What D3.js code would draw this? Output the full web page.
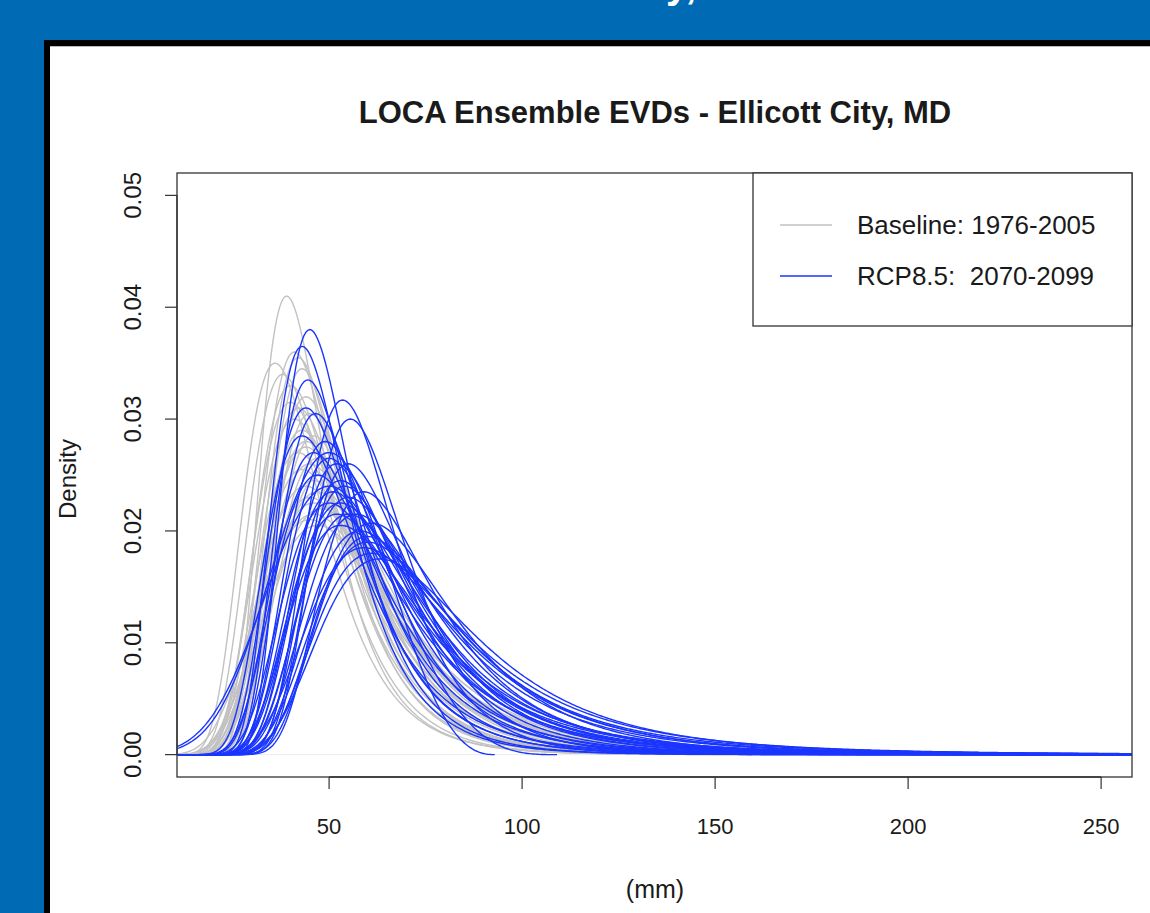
<!DOCTYPE html>
<html>
<head>
<meta charset="utf-8">
<script src="https://cdn.jsdelivr.net/npm/d3@7.9.0/dist/d3.min.js"></script>
<style>
  html, body { margin: 0; padding: 0; background: #006ab4; }
  svg { display: block; }
  text { font-family: "Liberation Sans", Arial, Helvetica, sans-serif; fill: #1a1a1a; }
</style>
</head>
<body>
<svg id="chart" width="1150" height="913"></svg>
<script>
// Baseline (1976-2005) ensemble members: mode (mm), peak density, GEV shape
const baselineMode = [39, 36, 41, 42, 43, 40, 44, 42, 45, 41, 43, 46, 44, 42, 47,
  45, 43, 48, 46, 44, 47, 45, 46, 48, 46, 45, 47, 44, 38, 40];
const baselinePeak = [0.041, 0.035, 0.036, 0.0355, 0.0345, 0.033, 0.032, 0.031, 0.0305, 0.030,
  0.029, 0.0285, 0.0275, 0.027, 0.0265, 0.026, 0.0255, 0.025, 0.0245, 0.024,
  0.0235, 0.023, 0.0225, 0.022, 0.0215, 0.021, 0.0205, 0.028, 0.034, 0.0315];
const baselineShape = [0.10, 0.05, 0.08, 0.10, 0.12, 0.06, 0.10, 0.08, 0.12, 0.05,
  0.10, 0.14, 0.08, 0.12, 0.10, 0.06, 0.15, 0.10, 0.12, 0.08,
  0.10, 0.14, 0.06, 0.12, 0.10, 0.08, 0.12, 0.10, 0.04, 0.08];

// RCP8.5 (2070-2099) ensemble members
const futureMode = [45, 43, 44.5, 53.5, 55.5, 46.5, 43, 49, 55, 47, 53, 59, 50, 61, 58,
  60, 59, 61, 63, 50, 51, 53, 55, 46, 54, 55, 52, 52, 60, 53, 57, 44, 50, 50];
const futurePeak = [0.038, 0.0365, 0.0335, 0.0317, 0.030, 0.0305, 0.0285, 0.028, 0.026, 0.025,
  0.0245, 0.0235, 0.0225, 0.0207, 0.020, 0.019, 0.0185, 0.018, 0.0175, 0.0265,
  0.0235, 0.0225, 0.0215, 0.027, 0.024, 0.023, 0.0215, 0.026, 0.0195, 0.0205,
  0.0215, 0.031, 0.027, 0.024];
const futureShape = [0.10, 0.08, 0.12, 0.02, 0.05, 0.10, 0.12, 0.10, 0.15, 0.12,
  0.12, 0.15, 0.16, 0.10, 0.18, 0.15, 0.14, 0.20, 0.15, 0.10,
  0.18, 0.14, 0.16, 0.12, 0.20, 0.12, 0.20, 0.12, 0.22, 0.18,
  0.12, 0.08, -0.30, -0.25];

const xTicks = [50, 100, 150, 200, 250];
const yTicks = [0, 0.01, 0.02, 0.03, 0.04, 0.05];
const legendLabels = ['Baseline: 1976-2005', 'RCP8.5:  2070-2099'];
const legendColors = ['#c2c2c2', '#1a35ff'];

const svg = d3.select('#chart');

// slide panel
svg.append('text')
  .attr('id', 'slideTitle')
  .attr('x', 0).attr('y', -2)
  .style('font-size', '40px')
  .style('font-weight', 'bold')
  .style('fill', '#ffffff')
  .text('Ellicott City, MD');
const st = document.getElementById('slideTitle');
const yPos = st.getSubStringLength(0, 12);
d3.select(st).attr('x', 666 - yPos);

svg.append('rect').attr('x', 44).attr('y', 40).attr('width', 1200).attr('height', 1000).attr('fill', '#000');
svg.append('rect').attr('x', 50).attr('y', 46).attr('width', 1200).attr('height', 1000).attr('fill', '#fff');
svg.append('line').attr('x1', 50).attr('x2', 1150).attr('y1', 46.5).attr('y2', 46.5)
  .attr('stroke', '#bbb').attr('stroke-width', 1);

const plot = { left: 177, right: 1132, top: 173, bottom: 777 };

const x = d3.scaleLinear().domain([10.6, 258]).range([plot.left, plot.right]);
const y = d3.scaleLinear().domain([-0.002, 0.052]).range([plot.bottom, plot.top]);

function gevParams(mode, peak, xi) {
  const a = Math.pow(1 + xi, 1 + xi) * Math.exp(-(1 + xi));
  const sigma = a / peak;
  const mu = mode - sigma * (Math.pow(1 + xi, -xi) - 1) / xi;
  return { mu, sigma, xi };
}

function gevPdf(v, p) {
  const s = 1 + p.xi * (v - p.mu) / p.sigma;
  if (s <= 0) return 0;
  const t = Math.pow(s, -1 / p.xi);
  return Math.pow(t, p.xi + 1) * Math.exp(-t) / p.sigma;
}

function curvePoints(p, xEnd) {
  let grid = d3.range(8, xEnd, 0.5);
  if (p.xi < 0) {
    const bound = p.mu - p.sigma / p.xi;
    grid = grid.filter((v) => v < bound);
    grid.push(bound);
  }
  return grid.map((v) => [v, gevPdf(v, p)]);
}

svg.append('clipPath').attr('id', 'plotClip')
  .append('rect')
  .attr('x', plot.left).attr('y', plot.top)
  .attr('width', plot.right - plot.left).attr('height', plot.bottom - plot.top);

const g = svg.append('g').attr('clip-path', 'url(#plotClip)');

g.append('line')
  .attr('x1', plot.left).attr('x2', plot.right)
  .attr('y1', y(0)).attr('y2', y(0))
  .attr('stroke', '#ececec').attr('stroke-width', 1);

const line = d3.line().x((d) => x(d[0])).y((d) => y(d[1]));

const baseline = baselineMode.map((m, i) => gevParams(m, baselinePeak[i], baselineShape[i]));
const future = futureMode.map((m, i) => gevParams(m, futurePeak[i], futureShape[i]));

g.selectAll('path.base')
  .data(baseline)
  .enter()
  .append('path')
  .attr('class', 'base')
  .attr('d', (p) => line(curvePoints(p, 160)))
  .attr('fill', 'none')
  .attr('stroke', legendColors[0])
  .attr('stroke-width', 1.4);

g.selectAll('path.future')
  .data(future)
  .enter()
  .append('path')
  .attr('class', 'future')
  .attr('d', (p) => line(curvePoints(p, 262)))
  .attr('fill', 'none')
  .attr('stroke', legendColors[1])
  .attr('stroke-width', 1.4);

// plot box
svg.append('rect')
  .attr('x', plot.left).attr('y', plot.top)
  .attr('width', plot.right - plot.left).attr('height', plot.bottom - plot.top)
  .attr('fill', 'none').attr('stroke', '#333').attr('stroke-width', 1.3);

// x axis (R style)
const xAxis = svg.append('g').attr('transform', `translate(0,${plot.bottom})`);
xAxis.append('line')
  .attr('x1', x(xTicks[0])).attr('x2', x(xTicks[xTicks.length - 1]))
  .attr('stroke', '#333').attr('stroke-width', 1.3);
xAxis.selectAll('line.tick')
  .data(xTicks).enter().append('line')
  .attr('class', 'tick')
  .attr('x1', (d) => x(d)).attr('x2', (d) => x(d))
  .attr('y1', 0).attr('y2', 12)
  .attr('stroke', '#333').attr('stroke-width', 1.2);
xAxis.selectAll('text')
  .data(xTicks).enter().append('text')
  .attr('x', (d) => x(d)).attr('y', 57)
  .attr('text-anchor', 'middle')
  .style('font-size', '22px')
  .text((d) => d);

// y axis
const yAxis = svg.append('g').attr('transform', `translate(${plot.left},0)`);
yAxis.append('line')
  .attr('y1', y(yTicks[0])).attr('y2', y(yTicks[yTicks.length - 1]))
  .attr('stroke', '#333').attr('stroke-width', 1.3);
yAxis.selectAll('line.tick')
  .data(yTicks).enter().append('line')
  .attr('class', 'tick')
  .attr('y1', (d) => y(d)).attr('y2', (d) => y(d))
  .attr('x1', 0).attr('x2', -12)
  .attr('stroke', '#333').attr('stroke-width', 1.2);
yAxis.selectAll('text')
  .data(yTicks).enter().append('text')
  .attr('transform', (d) => `translate(-36,${y(d)}) rotate(-90)`)
  .attr('text-anchor', 'middle')
  .style('font-size', '24px')
  .text((d) => d3.format('.2f')(d));

svg.append('text')
  .attr('transform', 'translate(76,479) rotate(-90)')
  .attr('text-anchor', 'middle')
  .style('font-size', '24px')
  .text('Density');

svg.append('text')
  .attr('x', 655).attr('y', 898)
  .attr('text-anchor', 'middle')
  .style('font-size', '25px')
  .text('(mm)');

svg.append('text')
  .attr('x', 655).attr('y', 123)
  .attr('text-anchor', 'middle')
  .style('font-size', '31px')
  .style('font-weight', 'bold')
  .text('LOCA Ensemble EVDs - Ellicott City, MD');

// legend
const legend = svg.append('g');
legend.append('rect')
  .attr('x', 753).attr('y', plot.top)
  .attr('width', plot.right - 753).attr('height', 153)
  .attr('fill', '#fff').attr('stroke', '#333').attr('stroke-width', 1.3);
const items = legend.selectAll('g.item')
  .data(legendLabels).enter().append('g')
  .attr('class', 'item')
  .attr('transform', (d, i) => `translate(0,${225 + i * 51})`);
items.append('line')
  .attr('x1', 780).attr('x2', 832)
  .attr('stroke', (d, i) => legendColors[i]).attr('stroke-width', 1.4);
items.append('text')
  .attr('x', 857).attr('y', 9)
  .style('font-size', '26px')
  .style('white-space', 'pre')
  .text((d) => d);
</script>
</body>
</html>
